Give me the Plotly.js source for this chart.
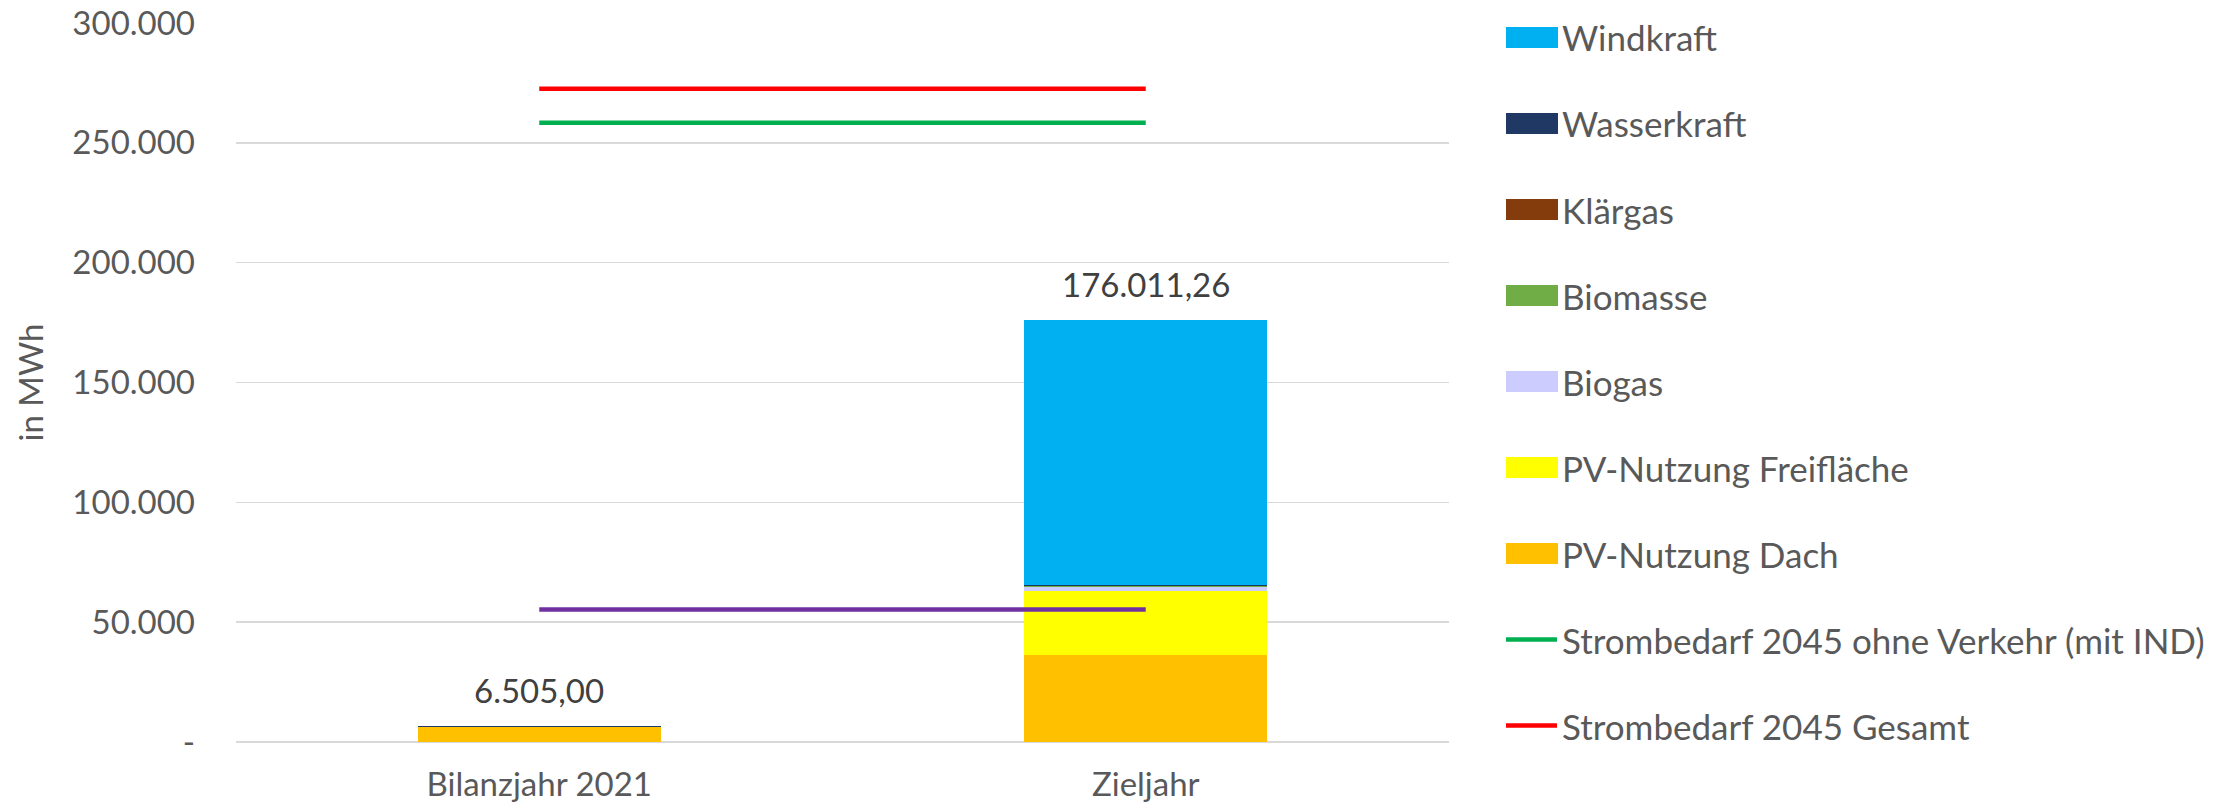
<!DOCTYPE html>
<html><head><meta charset="utf-8">
<script src="https://cdn.plot.ly/plotly-3.0.1.min.js"></script>
<style>html,body{margin:0;padding:0;background:#fff;} #chart{width:2228px;height:808px;}</style>
</head><body><div id="chart"></div>
<script>
// ---- data ----
const categories = ['Bilanzjahr 2021', 'Zieljahr'];
const pvDach = [6370, 36500];
const pvFrei = [0, 26300];
const biogas = [0, 1700];
const biomasse = [0, 400];
const klaergas = [0, 400];
const wasserkraft = [135, 100];
const windkraft = [0, 110611.26];
const bedarfOhneVerkehr = [258400, 258400];
const bedarfGesamt = [272600, 272600];
const bedarfLila = [55300, 55300];
const yTickVals = [0, 50000, 100000, 150000, 200000, 250000, 300000];
const yTickText = ['-', '50.000', '100.000', '150.000', '200.000', '250.000', '300.000'];

// ---- styles ----
const FONT = 'Lato, "Liberation Sans", sans-serif';
const FS = 33;
const FS_LEG = 35;
const stack = [
  {name: 'PV-Nutzung Dach', v: pvDach, c: '#FFC000'},
  {name: 'PV-Nutzung Freifläche', v: pvFrei, c: '#FFFF00'},
  {name: 'Biogas', v: biogas, c: '#CCCCFF'},
  {name: 'Biomasse', v: biomasse, c: '#70AD47'},
  {name: 'Klärgas', v: klaergas, c: '#843C0C'},
  {name: 'Wasserkraft', v: wasserkraft, c: '#1F3864'},
  {name: 'Windkraft', v: windkraft, c: '#00B0F0'}
];
const lines = [
  {name: 'Strombedarf 2045 ohne Verkehr (mit IND)', v: bedarfOhneVerkehr, c: '#00B050', legend: true},
  {name: 'Strombedarf 2045 Gesamt', v: bedarfGesamt, c: '#FF0000', legend: true},
  {name: 'Strombedarf', v: bedarfLila, c: '#7030A0', legend: false}
];

const traces = [];
stack.forEach(s => traces.push({
  type: 'bar', x: categories, y: s.v, name: s.name,
  marker: {color: s.c, line: {width: 0}}
}));
lines.forEach(l => traces.push({
  type: 'scatter', mode: 'lines', x: categories, y: l.v, name: l.name,
  line: {color: l.c, width: 4.5}
}));

function fmtDE(v) {
  const s = v.toFixed(2).split('.');
  return s[0].replace(/\B(?=(\d{3})+(?!\d))/g, '.') + ',' + s[1];
}
const totals = categories.map((c, k) => stack.reduce((a, s) => a + s.v[k], 0));

// plot geometry (px)
const W = 2228, H = 808;
const mL = 236, mR = 779, mT = 23, mB = 66;
const pw = W - mL - mR, ph = H - mT - mB;
const xp = px => (px - mL) / pw;
const yp = py => (H - mB - py) / ph;

const annotations = categories.map((c, k) => ({
  x: c, y: totals[k], xref: 'x', yref: 'y', yanchor: 'bottom',
  text: fmtDE(totals[k]), showarrow: false, yshift: 14,
  font: {family: FONT, size: FS, color: '#404040'}
}));
const shapes = [];
const legendItems = stack.slice().reverse().map(s => ({name: s.name, c: s.c, kind: 'box'}))
  .concat(lines.filter(l => l.legend).map(l => ({name: l.name, c: l.c, kind: 'line'})));
legendItems.forEach((it, i) => {
  const cy = 37.5 + 86 * i;
  if (it.kind === 'box') {
    shapes.push({type: 'rect', xref: 'paper', yref: 'paper',
      x0: xp(1506), x1: xp(1558), y0: yp(cy - 10.5), y1: yp(cy + 10.5),
      fillcolor: it.c, line: {width: 0}});
  } else {
    shapes.push({type: 'line', xref: 'paper', yref: 'paper',
      x0: xp(1506), x1: xp(1557), y0: yp(cy), y1: yp(cy),
      line: {color: it.c, width: 4.5}});
  }
  annotations.push({xref: 'paper', yref: 'paper', x: xp(1560), y: yp(cy),
    xanchor: 'left', yanchor: 'middle', showarrow: false, text: it.name,
    font: {family: FONT, size: FS_LEG, color: '#595959'}});
});

const layout = {
  width: W, height: H,
  margin: {l: mL, r: mR, t: mT, b: mB, pad: 0},
  paper_bgcolor: '#fff', plot_bgcolor: '#fff',
  barmode: 'stack', bargap: 0.6,
  showlegend: false, hovermode: false,
  font: {family: FONT, size: FS, color: '#595959'},
  xaxis: {type: 'category', showgrid: false, showline: false, zeroline: false,
    ticks: '', ticklabelstandoff: 20, tickfont: {family: FONT, size: 33, color: '#595959'}},
  yaxis: {range: [0, 300000], tickvals: yTickVals, ticktext: yTickText,
    showgrid: true, gridcolor: '#d9d9d9', gridwidth: 1.5,
    zeroline: true, zerolinecolor: '#d9d9d9', zerolinewidth: 1.5,
    showline: false, ticks: '', ticklabelstandoff: 40,
    tickfont: {family: FONT, size: FS, color: '#595959'},
    title: {text: 'in MWh', standoff: 18, font: {family: FONT, size: FS, color: '#595959'}}},
  shapes: shapes, annotations: annotations
};
Plotly.newPlot('chart', traces, layout, {staticPlot: true, displayModeBar: false});
</script></body></html>
